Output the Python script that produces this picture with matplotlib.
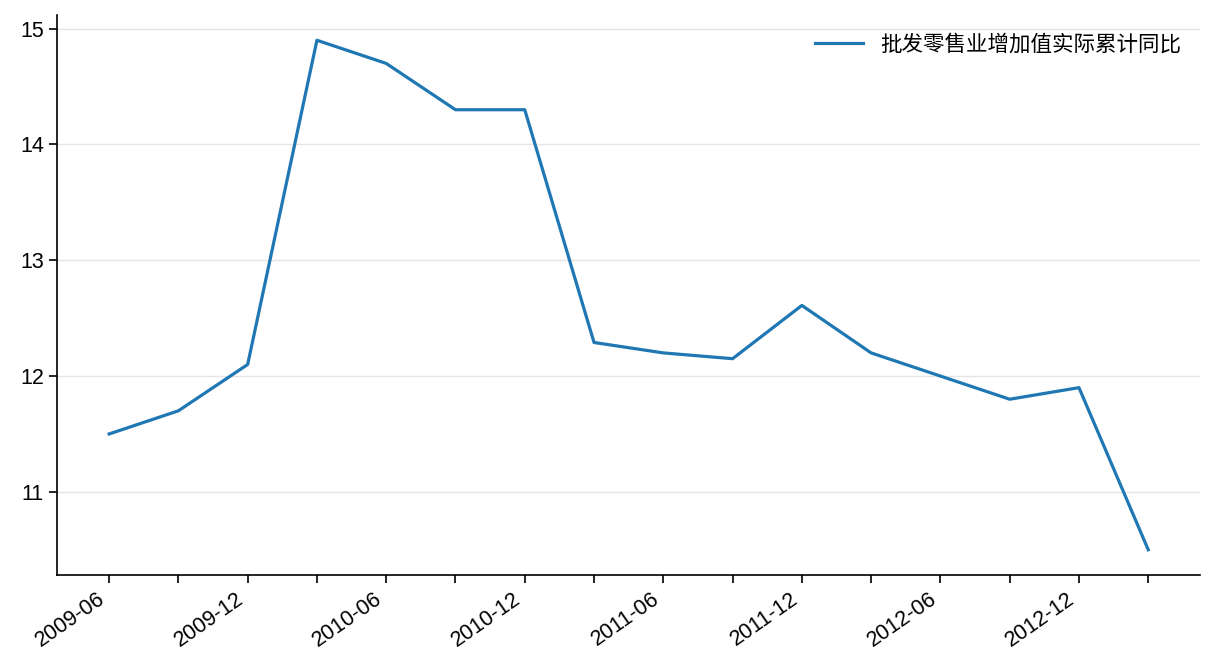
import numpy as np
import matplotlib.pyplot as plt

plt.rcParams['font.family'] = ['Liberation Sans', 'Noto Sans CJK SC', 'DejaVu Sans']
plt.rcParams['font.size'] = 15.5

dates = ['2009-06', '2009-09', '2009-12', '2010-03', '2010-06', '2010-09', '2010-12', '2011-03',
         '2011-06', '2011-09', '2011-12', '2012-03', '2012-06', '2012-09', '2012-12', '2013-03']
values = [11.5, 11.7, 12.1, 14.9, 14.7, 14.3, 14.3, 12.29,
          12.2, 12.15, 12.61, 12.2, 12.0, 11.8, 11.9, 10.5]

fig = plt.figure(figsize=(12.16, 6.72), dpi=100)
ax = fig.add_axes([0.047, 0.144, 0.94, 0.834])

x = np.arange(len(dates))
ax.plot(x, values, color='#1f77b4', linewidth=2.3, label='批发零售业增加值实际累计同比')

ax.set_xticks(x)
ax.set_xticklabels([d if i % 2 == 0 else '' for i, d in enumerate(dates)], rotation=35, ha='right')
ax.set_yticks([11, 12, 13, 14, 15])
ax.tick_params(length=6, width=1.2)

ax.grid(axis='y', color='#e5e5e5', linewidth=1)
ax.set_axisbelow(True)
for s in ['top', 'right']:
    ax.spines[s].set_visible(False)
for s in ['left', 'bottom']:
    ax.spines[s].set_linewidth(1.2)

ax.legend(loc='upper right', frameon=False, handlelength=2.2)

fig.savefig('out.png', dpi=100)
